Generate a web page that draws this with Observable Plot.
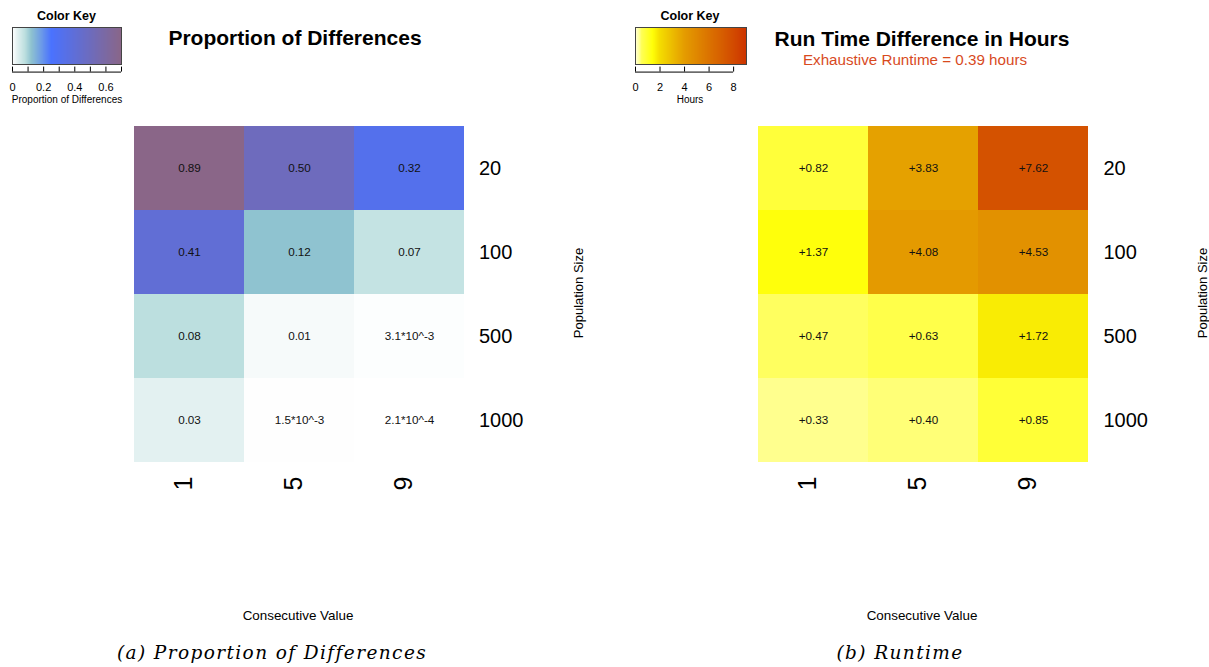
<!DOCTYPE html>
<html><head><meta charset="utf-8">
<script src="https://cdn.jsdelivr.net/npm/d3@7"></script>
<script src="https://cdn.jsdelivr.net/npm/@observablehq/plot@0.6"></script>
<style>
body{margin:0;background:#fff;font-family:"Liberation Sans",Arial,sans-serif;}
#root{position:relative;width:1209px;height:667px;overflow:hidden;background:#fff;}
#root svg{position:absolute;}
.t{position:absolute;white-space:nowrap;color:#000;}
</style></head><body><div id="root"></div>
<script>
// ---------- data ----------
const consecutive = ["1", "5", "9"];
const populations = ["20", "100", "500", "1000"];
// rows = population size, columns = consecutive value
const propValues = [
  [0.89, 0.50, 0.32],
  [0.41, 0.12, 0.07],
  [0.08, 0.01, 0.0031],
  [0.03, 0.0015, 0.00021]
];
const propLabels = [
  ["0.89", "0.50", "0.32"],
  ["0.41", "0.12", "0.07"],
  ["0.08", "0.01", "3.1*10^-3"],
  ["0.03", "1.5*10^-3", "2.1*10^-4"]
];
const runValues = [
  [0.82, 3.83, 7.62],
  [1.37, 4.08, 4.53],
  [0.47, 0.63, 1.72],
  [0.33, 0.40, 0.85]
];
const runLabels = runValues.map(r => r.map(v => "+" + v.toFixed(2)));

// colour keys
const propKeyStops = [0, 0.03, 0.08, 0.12, 0.25, 0.7];
const propKeyColors = ["#ffffff", "#e3f1f1", "#bcdfdf", "#8fc3d0", "#4a72ff", "#8a6688"];
const propKeyTicks = [0, 0.1, 0.2, 0.3, 0.4, 0.5, 0.6, 0.7];
const propKeyTickLabels = [0, 0.2, 0.4, 0.6];
const propKeyMax = 0.7;

const runKeyStops = [0, 0.3, 0.5, 1.4, 2, 4, 8, 9.05];
const runKeyColors = ["#ffffd8", "#ffff98", "#ffff55", "#ffff08", "#f4dc00", "#e49c00", "#d24a00", "#cc3300"];
const runKeyTicks = [0, 2, 4, 6, 8];
const runKeyTickLabels = [0, 2, 4, 6, 8];
const runKeyMax = 9.05;

// ---------- helpers ----------
const FONT = '"Liberation Sans", Arial, sans-serif';
const root = document.getElementById("root");

function cellsOf(values, labels) {
  return populations.flatMap((p, i) => consecutive.map((c, j) => ({pop: p, cons: c, value: values[i][j], label: labels[i][j]})));
}

function heatmap(cells, colorOpts, left, width, x0, x1) {
  const svg = Plot.plot({
    width, height: 560,
    marginLeft: x0 - left, marginRight: left + width - x1,
    marginTop: 126, marginBottom: 560 - 462,
    style: {fontFamily: FONT, background: "transparent", color: "#000"},
    x: {domain: consecutive, padding: 0, label: null},
    y: {domain: populations, padding: 0, label: null},
    color: colorOpts,
    marks: [
      Plot.cell(cells, {x: "cons", y: "pop", fill: "value", inset: 0, shapeRendering: "crispEdges"}),
      Plot.text(cells, {x: "cons", y: "pop", text: "label", fontSize: 11.7, fill: "#111"}),
      Plot.axisX({anchor: "bottom", tickSize: 0, tickPadding: 14, tickRotate: -90, fontSize: 25, dx: -6, label: null}),
      Plot.axisY({anchor: "right", tickSize: 0, tickPadding: 14, fontSize: 20, label: null})
    ]
  });
  svg.style.left = left + "px";
  svg.style.top = "0px";
  root.appendChild(svg);
}

function colorKey(colorOpts, max, ticks, tickLabels, left, width, bx0, bx1) {
  const svg = Plot.plot({
    width, height: 110,
    marginLeft: bx0 - left, marginRight: left + width - bx1,
    marginTop: 27, marginBottom: 110 - 64,
    style: {fontFamily: FONT, background: "transparent", color: "#000"},
    x: {domain: [0, max], axis: null},
    y: {domain: [0, 1], axis: null},
    color: colorOpts,
    marks: [
      Plot.raster({x1: 0, x2: max, y1: 0, y2: 1, width: 220, height: 1, fill: (x, y) => x, imageRendering: "auto"}),
      Plot.frame({stroke: "#444", strokeWidth: 1}),
      Plot.ruleX(ticks, {y1: -0.07, y2: -0.205, stroke: "#000", strokeWidth: 1}),
      Plot.ruleY([-0.205], {x1: ticks[0], x2: ticks[ticks.length - 1], stroke: "#000", strokeWidth: 1}),
      Plot.text(tickLabels, {x: d => d, y: -0.62, text: d => String(d), fontSize: 11, lineAnchor: "middle", fill: "#000"})
    ]
  });
  svg.style.left = left + "px";
  svg.style.top = "0px";
  root.appendChild(svg);
}

function label(str, x, baseline, size, opts = {}) {
  const d = document.createElement("div");
  d.className = "t";
  d.textContent = str;
  d.style.fontSize = size + "px";
  d.style.lineHeight = size + "px";
  d.style.left = x + "px";
  d.style.top = (baseline - 0.8465 * size) + "px";
  d.style.transform = "translateX(-50%)";
  if (opts.weight) d.style.fontWeight = opts.weight;
  if (opts.color) d.style.color = opts.color;
  if (opts.family) d.style.fontFamily = opts.family;
  if (opts.italic) d.style.fontStyle = "italic";
  if (opts.ls) d.style.letterSpacing = opts.ls + "px";
  root.appendChild(d);
  return d;
}
function vlabel(str, cx, cy, size) {
  const d = document.createElement("div");
  d.className = "t";
  d.textContent = str;
  d.style.fontSize = size + "px";
  d.style.lineHeight = size + "px";
  d.style.left = cx + "px";
  d.style.top = cy + "px";
  d.style.transform = "translate(-50%,-50%) rotate(-90deg)";
  root.appendChild(d);
}

// ---------- panel (a) ----------
const propColor = {type: "linear", domain: propKeyStops, range: propKeyColors, clamp: true, interpolate: "rgb"};
heatmap(cellsOf(propValues, propLabels), propColor, 0, 600, 133, 464.5);
colorKey(propColor, propKeyMax, propKeyTicks, propKeyTickLabels, 0, 140, 12, 121);
label("Color Key", 66.5, 20.5, 12.5, {weight: "bold"});
label("Proportion of Differences", 67, 103, 10);
label("Proportion of Differences", 295, 45, 21, {weight: "bold"});
vlabel("Population Size", 577.5, 293, 13);
label("Consecutive Value", 298, 620, 13.4);
label("(a) Proportion of Differences", 272, 660, 18.5, {family: '"DejaVu Serif", serif', italic: true, ls: 1.4});

// ---------- panel (b) ----------
const runColor = {type: "linear", domain: runKeyStops, range: runKeyColors, clamp: true, interpolate: "rgb"};
heatmap(cellsOf(runValues, runLabels), runColor, 620, 589, 757.3, 1089);
colorKey(runColor, runKeyMax, runKeyTicks, runKeyTickLabels, 620, 140, 635, 746);
label("Color Key", 690, 20.5, 12.5, {weight: "bold"});
label("Hours", 690, 103, 10);
label("Run Time Difference in Hours", 922, 45.5, 21, {weight: "bold"});
label("Exhaustive Runtime = 0.39 hours", 915, 65, 15.2, {color: "#d84a1e"});
vlabel("Population Size", 1201.5, 293, 13);
label("Consecutive Value", 922, 620, 13.4);
label("(b) Runtime", 900, 660, 18.5, {family: '"DejaVu Serif", serif', italic: true, ls: 1.4});
</script>
</body></html>
